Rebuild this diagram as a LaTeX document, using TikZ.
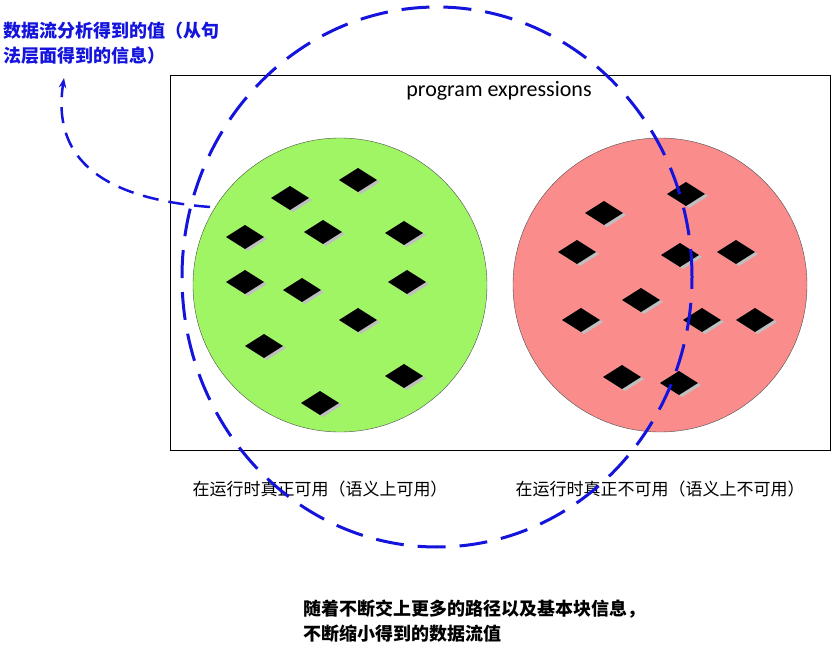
\documentclass[tikz,border=0pt]{standalone}
\usepackage{fontspec}
\setmainfont{Carlito}
\newfontfamily\cjk{Noto Sans CJK SC}
\usetikzlibrary{arrows.meta}
\definecolor{setgreen}{RGB}{160,245,100}
\definecolor{setred}{RGB}{250,140,140}
\definecolor{flowblue}{RGB}{20,20,220}
\tikzset{
  note/.style={font=\cjk\fontsize{17}{21}\selectfont,align=left}
}
\newcommand{\gem}[2]{%
  \fill[gray!50] (#1+3,-#2+10) -- ++(19,-12) -- ++(-19,-12) -- ++(-19,12) -- cycle;
  \fill[black] (#1,-#2+12) -- ++(19,-12) -- ++(-19,-12) -- ++(-19,12) -- cycle;}
\begin{document}
\begin{tikzpicture}[x=1pt,y=1pt]
  \useasboundingbox (0,0) rectangle (831,-647);
  % outer box
  \node[draw,minimum width=660,minimum height=375,anchor=north west,inner sep=0] (box) at (170,-75) {};
  \node[font=\fontsize{22}{26}\selectfont] (title) at (499,-91) {program expressions};
  % the two sets
  \node[circle,draw=black!70,fill=setgreen,minimum size=294] (ok) at (340,-285) {};
  \node[circle,draw=black!70,fill=setred,minimum size=294] (bad) at (660,-285) {};
  % elements
  \foreach \p/\q in {358/180,290/198,245/237,323/232,404/233,245/282,302/290,407/282,358/320,264/346,404/376,320/403,
                     604/213,686/194,577/252,680/255,736/252,641/300,581/320,702/320,755/320,622/377,679/383}
    {\gem{\p}{\q}}
  % labels
  \node[note] (okl) at (320,-489) {在运行时真正可用（语义上可用）};
  \node[note] (badl) at (660,-489) {在运行时真正不可用（语义上不可用）};
  \node[note,font=\cjk\bfseries\fontsize{18}{25}\selectfont,color=flowblue,anchor=north west] (df) at (0,-18)
    {数据流分析得到的值（从句\\法层面得到的信息）};
  \node[note,font=\cjk\bfseries\fontsize{18}{25}\selectfont,anchor=west] (shrink) at (300,-621)
    {随着不断交上更多的路径以及基本块信息，\\不断缩小得到的数据流值};
  % data-flow ellipse
  \draw[flowblue,line width=3pt,dash pattern=on 28pt off 14pt] (437,-277) ellipse (255 and 270);
  \coordinate (from) at (210,-207);
  \draw[flowblue,line width=2.5pt,dash pattern=on 16pt off 10pt,-{Stealth[length=10pt]}]
    (from) .. controls (120,-200) and (50,-170) .. (64,-78);
\end{tikzpicture}
\end{document}
